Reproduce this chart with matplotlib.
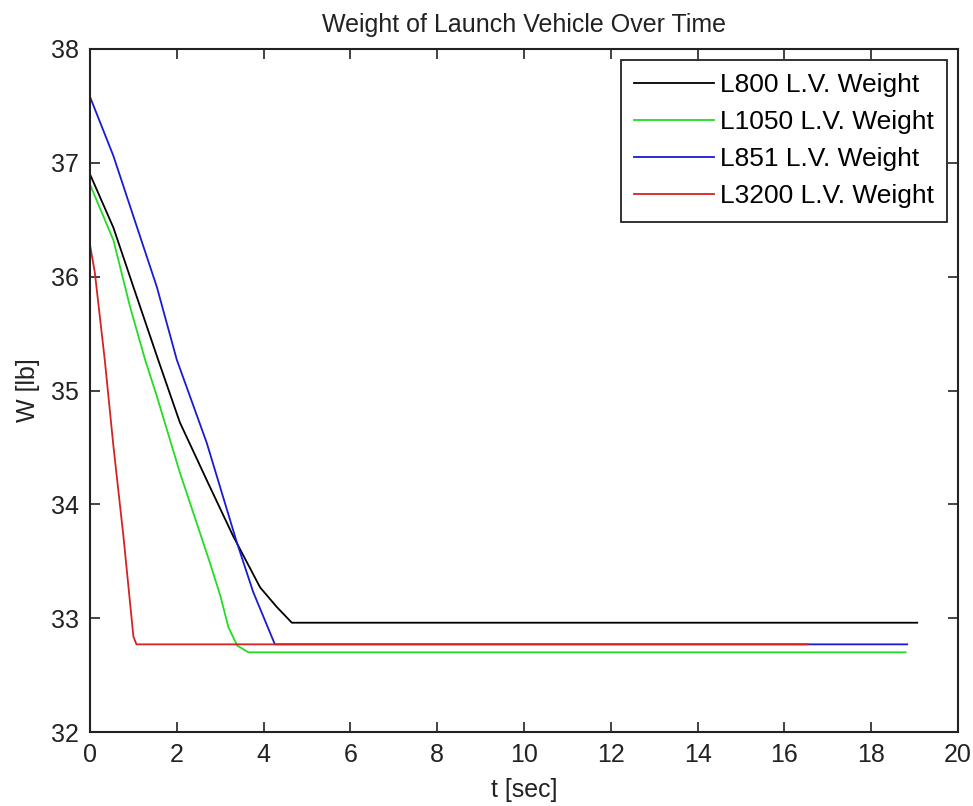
import matplotlib
matplotlib.use('agg')
import matplotlib.pyplot as plt

# values
t_l800 = [0, 0.54, 1.0, 1.57, 2.07, 2.73, 3.30, 3.92, 4.30, 4.65, 19.06]
w_l800 = [36.90, 36.43, 35.91, 35.27, 34.72, 34.18, 33.72, 33.27, 33.10, 32.96, 32.96]

t_l1050 = [0, 0.54, 0.92, 1.27, 1.54, 2.07, 2.76, 3.0, 3.19, 3.39, 3.65, 18.79]
w_l1050 = [36.81, 36.32, 35.74, 35.27, 34.95, 34.28, 33.49, 33.20, 32.92, 32.76, 32.70, 32.70]

t_l851 = [0, 0.54, 1.0, 1.54, 2.0, 2.69, 3.38, 3.76, 4.26, 18.83]
w_l851 = [37.58, 37.06, 36.53, 35.91, 35.27, 34.54, 33.67, 33.23, 32.77, 32.77]

t_l3200 = [0, 0.11, 0.34, 0.54, 0.77, 1.0, 1.07, 16.54]
w_l3200 = [36.28, 36.04, 35.27, 34.51, 33.72, 32.84, 32.77, 32.77]

labels = ['L800 L.V. Weight', 'L1050 L.V. Weight', 'L851 L.V. Weight', 'L3200 L.V. Weight']
colors = ['#000000', '#22dd22', '#1a1ad6', '#d42222']

plt.rcParams['font.family'] = ['Liberation Sans', 'DejaVu Sans']
fs = 18

fig = plt.figure(figsize=(9.73, 8.06), dpi=100)
ax = fig.add_axes([90 / 973, 74 / 806, 868 / 973, 683 / 806])

series = [(t_l800, w_l800), (t_l1050, w_l1050), (t_l851, w_l851), (t_l3200, w_l3200)]
for (t, w), lab, c in zip(series, labels, colors):
    ax.plot(t, w, color=c, linewidth=1.3, label=lab)

ax.set_xlim(0, 20)
ax.set_ylim(32, 38)
ax.set_xticks(range(0, 21, 2))
ax.set_yticks(range(32, 39))
ax.tick_params(direction='in', top=True, right=True, length=7, width=1.2,
               labelsize=fs, colors='#222222', pad=8)
for s in ax.spines.values():
    s.set_linewidth(1.5)
    s.set_color('#222222')

ax.set_title('Weight of Launch Vehicle Over Time', fontsize=fs, pad=12, color='#222222')
ax.set_xlabel('t [sec]', fontsize=fs, labelpad=8, color='#222222')
ax.set_ylabel('W [lb]', fontsize=fs, labelpad=8, color='#222222')

leg = ax.legend(loc='upper right', fontsize=19, fancybox=False, framealpha=1,
                edgecolor='#222222', handlelength=3.0, handletextpad=0.25,
                borderaxespad=0.4, labelspacing=0.5, borderpad=0.5)
leg.get_frame().set_linewidth(1.3)

plt.savefig('out.png', dpi=100)
